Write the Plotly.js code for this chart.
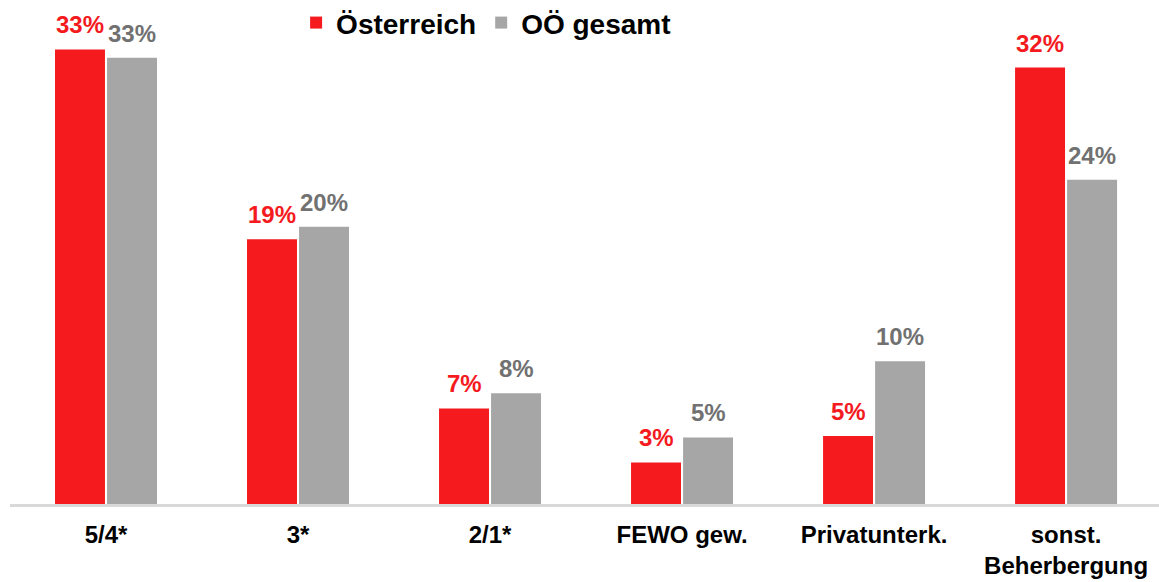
<!DOCTYPE html>
<html>
<head>
<meta charset="utf-8">
<script src="https://cdn.plot.ly/plotly-3.0.1.min.js"></script>
<style>html,body{margin:0;padding:0;background:#fff;}#chart{width:1159px;height:582px;}</style>
</head>
<body>
<div id="chart"></div>
<script>
const categories = ['5/4*', '3*', '2/1*', 'FEWO gew.', 'Privatunterk.', 'sonst.<br>Beherbergung'];
const oesterreich = [32.8, 19.1, 6.9, 3.0, 4.9, 31.5];
const ooeGesamt = [32.2, 20.0, 8.0, 4.8, 10.3, 23.4];
const oesterreichLabels = ['33%', '19%', '7%', '3%', '5%', '32%'];
const ooeLabels = ['33%', '20%', '8%', '5%', '10%', '24%'];
const seriesNames = ['Österreich', 'OÖ gesamt'];

const RED = '#F41A1E';
const GREY = '#A6A6A6';
const FONT = 'Liberation Sans, Arial, sans-serif';

const traces = [
  {type: 'bar', name: seriesNames[0], x: categories, y: oesterreich,
   marker: {color: RED, line: {width: 0}}},
  {type: 'bar', name: seriesNames[1], x: categories, y: ooeGesamt,
   marker: {color: GREY, line: {width: 0}}}
];

const annotations = [];
categories.forEach((c, i) => {
  annotations.push({x: i, y: oesterreich[i], xref: 'x', yref: 'y', text: '<b>' + oesterreichLabels[i] + '</b>',
    showarrow: false, xshift: -26, yshift: 9, yanchor: 'bottom',
    font: {family: FONT, size: 24, color: RED}});
  annotations.push({x: i, y: ooeGesamt[i], xref: 'x', yref: 'y', text: '<b>' + ooeLabels[i] + '</b>',
    showarrow: false, xshift: 26, yshift: 9, yanchor: 'bottom',
    font: {family: FONT, size: 24, color: '#717171'}});
});

const layout = {
  width: 1159, height: 582,
  margin: {l: 10, r: 0, t: 19, b: 78, autoexpand: false},
  paper_bgcolor: '#fff', plot_bgcolor: '#fff',
  barmode: 'group', bargap: 0.458, bargroupgap: 0.04,
  font: {family: FONT, color: '#000'},
  xaxis: {type: 'category', range: [-0.5, 5.484], showgrid: false, zeroline: false,
    showline: true, linecolor: '#D9D9D9', linewidth: 3, ticks: '', ticklabelstandoff: 7,
    tickfont: {family: FONT, size: 24, color: '#000', weight: 'bold'}},
  yaxis: {range: [0, 35], showgrid: false, zeroline: false, showticklabels: false, showline: false},
  showlegend: true,
  legend: {orientation: 'h', x: 0.249, y: 0.992, xanchor: 'left', yanchor: 'middle',
    font: {family: FONT, size: 28, color: '#000', weight: 'bold'}, bgcolor: 'rgba(0,0,0,0)',
    itemclick: false, traceorder: 'normal'},
  annotations: annotations
};

Plotly.newPlot('chart', traces, layout, {displayModeBar: false, staticPlot: true});
</script>
</body>
</html>
